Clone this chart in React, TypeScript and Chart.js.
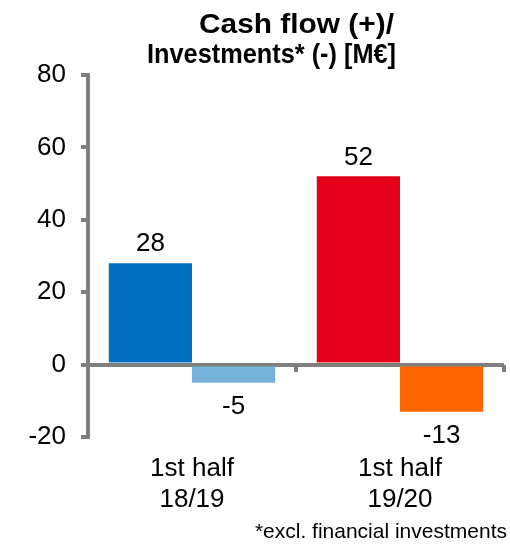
import React, { useEffect, useRef } from "react";
import { Chart, registerables } from "chart.js";

Chart.register(...registerables);

const categories: string[][] = [["1st half", "18/19"], ["1st half", "19/20"]];
const cashFlow: number[] = [28, 52];
const investments: number[] = [-5, -13];
const cashFlowColors: string[] = ["#0070C0", "#E2001A"];
const investmentColors: string[] = ["#75B3DA", "#FF6600"];
const yTicks = { min: -20, max: 80, step: 20 };
const titleLines: string[] = ["Cash flow (+)/", "Investments* (-) [M€]"];
const footnote = "*excl. financial investments";

const FONT = "'Liberation Sans', Arial, sans-serif";
const AXIS_GRAY = "#7F7F7F";

function fitText(ctx: any, text: string, left: number, right: number, baseline: number) {
  const w = ctx.measureText(text).width;
  const sx = (right - left) / w;
  ctx.save();
  ctx.textAlign = "left";
  ctx.translate(left, baseline);
  ctx.scale(sx, 1);
  ctx.fillText(text, 0, 0);
  ctx.restore();
}

const textPlugin = {
  id: "customText",
  afterDatasetsDraw(chart: any) {
    const ctx = chart.ctx;
    ctx.save();
    ctx.fillStyle = "#000";
    ctx.font = `26px ${FONT}`;
    ctx.textAlign = "center";
    chart.data.datasets.forEach((ds: any, i: number) => {
      const meta = chart.getDatasetMeta(i);
      meta.data.forEach((el: any, j: number) => {
        const v = ds.data[j];
        if (v >= 0) {
          ctx.textBaseline = "bottom";
          ctx.fillText(String(v), el.x, el.y - 6);
        } else {
          ctx.textBaseline = "top";
          ctx.fillText(String(v), el.x, el.y + 11);
        }
      });
    });
    ctx.restore();
  },
  afterDraw(chart: any) {
    const ctx = chart.ctx;
    ctx.save();
    ctx.fillStyle = "#000";
    ctx.textBaseline = "alphabetic";
    ctx.font = `bold 27px ${FONT}`;
    fitText(ctx, titleLines[0], 199, 394, 33);
    fitText(ctx, titleLines[1], 147, 396, 63);
    ctx.textAlign = "right";
    ctx.font = `21px ${FONT}`;
    ctx.fillText(footnote, 507, 538);
    ctx.restore();
  },
};

export default function App() {
  const ref = useRef<HTMLCanvasElement | null>(null);
  useEffect(() => {
    if (!ref.current) return;
    const chart = new Chart(ref.current, {
      type: "bar",
      data: {
        labels: categories,
        datasets: [
          {
            label: "Cash flow",
            data: cashFlow,
            backgroundColor: cashFlowColors,
            categoryPercentage: 0.8,
            barPercentage: 1.0,
            xAxisID: "x",
          },
          {
            label: "Investments",
            data: investments,
            backgroundColor: investmentColors,
            categoryPercentage: 0.8,
            barPercentage: 1.0,
            xAxisID: "x",
          },
        ],
      },
      options: {
        animation: false,
        responsive: false,
        maintainAspectRatio: false,
        layout: { padding: { top: 75, right: 6, left: 0, bottom: 0 } },
        plugins: {
          legend: { display: false },
          title: { display: false },
          tooltip: { enabled: false },
        },
        scales: {
          x: {
            type: "category",
            position: "bottom",
            border: { display: false },
            grid: { display: false, drawTicks: false },
            ticks: {
              color: "#000",
              font: { family: FONT, size: 26 },
              padding: 16,
              maxRotation: 0,
              autoSkip: false,
            },
            afterFit: (scale: any) => {
              scale.height = 113;
            },
          },
          x2: {
            type: "category",
            position: { y: 0 },
            offset: true,
            border: { display: false },
            grid: {
              offset: true,
              drawOnChartArea: false,
              drawTicks: true,
              tickLength: 7,
              tickColor: AXIS_GRAY,
              lineWidth: 4,
              color: AXIS_GRAY,
            },
            ticks: { display: false },
          },
          y: {
            min: yTicks.min,
            max: yTicks.max,
            position: "left",
            border: { display: true, color: AXIS_GRAY, width: 4 },
            grid: {
              drawOnChartArea: true,
              drawTicks: true,
              tickLength: 7,
              lineWidth: 4,
              color: (c: any) => (c.tick && c.tick.value === 0 ? AXIS_GRAY : "rgba(0,0,0,0)"),
              tickColor: AXIS_GRAY,
            },
            ticks: {
              stepSize: yTicks.step,
              color: "#000",
              font: { family: FONT, size: 26 },
              padding: 15,
            },
            afterFit: (scale: any) => {
              scale.width = 88;
            },
          },
        },
      },
      plugins: [textPlugin],
    });
    return () => chart.destroy();
  }, []);
  return (
    <div style={{ position: "fixed", left: 0, top: 0, width: 510, height: 550, background: "#fff" }}>
      <canvas ref={ref} width={510} height={550} style={{ width: 510, height: 550, display: "block" }} />
    </div>
  );
}
